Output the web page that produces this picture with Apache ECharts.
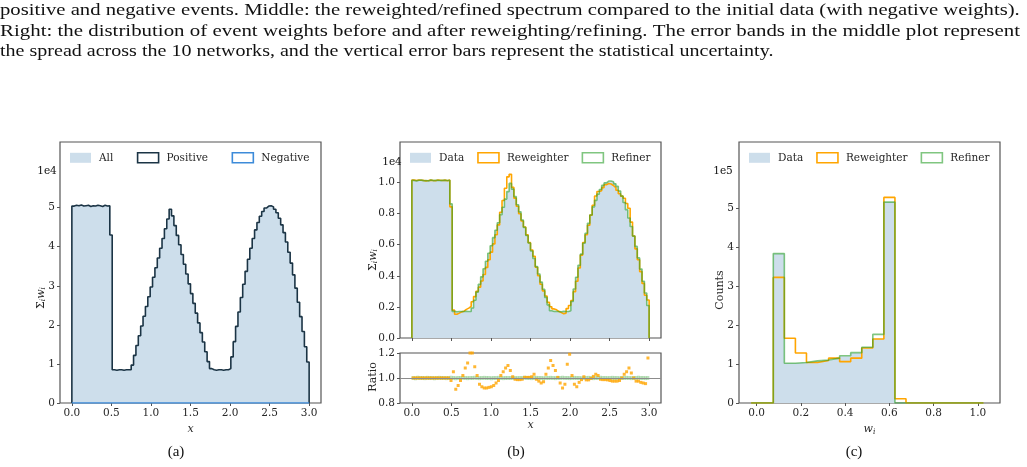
<!DOCTYPE html>
<html>
<head>
<meta charset="utf-8">
<script src="https://cdn.jsdelivr.net/npm/echarts@6/dist/echarts.min.js"></script>
<style>
  html, body { margin: 0; padding: 0; background: #fff; }
  #main { width: 1027px; height: 467px; }
</style>
</head>
<body>
<div id="main"></div>
<script>
// histogram of x, 100 bins of width 0.03 on [0, 3]
var xBinStart = 0, xBinWidth = 0.03;
var xTicks = [0, 0.5, 1, 1.5, 2, 2.5, 3];

// (a) sum of weights, units of 1e4
var allVals = [
  5.04, 5.06, 5.05, 5.07, 5.04, 5.05, 5.06, 5.03, 5.05, 5.04, 5.06, 5.05, 5.03, 5.06, 5.04, 5.05,
  4.30,
  0.85, 0.84, 0.85, 0.85, 0.84, 0.85, 0.85, 0.85,
  0.97, 1.22, 1.47, 1.72, 1.97, 2.22, 2.47, 2.72, 2.97, 3.22, 3.46, 3.71, 3.96, 4.21, 4.46, 4.71, 4.96,
  4.79, 4.54, 4.29, 4.05, 3.80, 3.55, 3.30, 3.05, 2.80, 2.55, 2.30, 2.05, 1.80, 1.56, 1.31, 1.06, 0.88,
  0.85, 0.84, 0.85, 0.85, 0.84, 0.85, 0.85,
  0.88,
  1.18, 1.57, 1.96, 2.33, 2.70, 3.04, 3.37, 3.68, 3.96, 4.21, 4.43, 4.62, 4.78, 4.90, 4.99, 5.04, 5.05,
  5.02, 4.96, 4.87, 4.73, 4.56, 4.36, 4.12, 3.86, 3.58, 3.28, 2.94, 2.58, 2.21, 1.83, 1.44, 1.05
];
// negative weights are tiny on this scale, so positive ~ all
var posVals = allVals;
var negVals = [
  0, 0, 0, 0, 0, 0, 0, 0, 0, 0, 0, 0, 0, 0, 0, 0, 0, 0, 0, 0,
  0, 0, 0, 0, 0, 0, 0, 0, 0, 0, 0, 0, 0, 0, 0, 0, 0, 0, 0, 0,
  0, 0, 0, 0, 0, 0, 0, 0, 0, 0, 0, 0, 0, 0, 0, 0, 0, 0, 0, 0,
  0, 0, 0, 0, 0, 0, 0, 0, 0, 0, 0, 0, 0, 0, 0, 0, 0, 0, 0, 0,
  0, 0, 0, 0, 0, 0, 0, 0, 0, 0, 0, 0, 0, 0, 0, 0, 0, 0, 0, 0
];

// (b) spectrum, units of 1e4
var dataVals = [
  1.015, 1.012, 1.016, 1.014, 1.013, 1.010, 1.012, 1.015, 1.013, 1.011, 1.016, 1.014, 1.012, 1.015, 1.011, 1.016,
  0.860,
  0.170, 0.168, 0.170, 0.171, 0.169, 0.170, 0.171, 0.170,
  0.194, 0.244, 0.294, 0.344, 0.394, 0.444, 0.494, 0.544, 0.594, 0.644, 0.692, 0.742, 0.792, 0.842, 0.892, 0.942, 0.992,
  0.958, 0.908, 0.858, 0.810, 0.760, 0.710, 0.660, 0.610, 0.560, 0.510, 0.460, 0.410, 0.360, 0.312, 0.262, 0.212, 0.176,
  0.170, 0.171, 0.169, 0.170, 0.170, 0.168, 0.170,
  0.176,
  0.236, 0.314, 0.392, 0.466, 0.540, 0.608, 0.674, 0.736, 0.792, 0.842, 0.886, 0.924, 0.956, 0.980, 0.998, 1.008, 1.010,
  1.004, 0.992, 0.974, 0.946, 0.912, 0.872, 0.824, 0.772, 0.716, 0.656, 0.588, 0.516, 0.442, 0.366, 0.288, 0.210
];
var rewVals = [
  1.015, 1.012, 1.016, 1.014, 1.013, 1.010, 1.012, 1.015, 1.013, 1.011, 1.016, 1.014, 1.012, 1.015, 1.011, 1.016,
  0.843,
  0.179, 0.153, 0.160, 0.168, 0.172, 0.184, 0.192, 0.204,
  0.233, 0.266, 0.300, 0.327, 0.366, 0.408, 0.454, 0.503, 0.552, 0.605, 0.664, 0.727, 0.808, 0.884, 0.963, 1.036, 1.052,
  0.968, 0.899, 0.847, 0.799, 0.752, 0.714, 0.663, 0.613, 0.566, 0.525, 0.455, 0.400, 0.346, 0.303, 0.270, 0.229, 0.201,
  0.187, 0.181, 0.170, 0.163, 0.156, 0.160, 0.189,
  0.209,
  0.241, 0.298, 0.365, 0.450, 0.533, 0.614, 0.664, 0.725, 0.790, 0.853, 0.913, 0.942, 0.946, 0.967, 0.985, 0.993, 0.990,
  0.979, 0.967, 0.950, 0.927, 0.912, 0.898, 0.865, 0.834, 0.745, 0.656, 0.573, 0.503, 0.427, 0.351, 0.275, 0.244
];
var refVals = [
  1.013, 1.010, 1.014, 1.015, 1.011, 1.012, 1.010, 1.016, 1.012, 1.013, 1.014, 1.012, 1.013, 1.014, 1.012, 1.014,
  0.862,
  0.171, 0.169, 0.170, 0.170, 0.170, 0.171, 0.170, 0.171,
  0.193, 0.243, 0.295, 0.345, 0.393, 0.445, 0.493, 0.545, 0.593, 0.645, 0.693, 0.741, 0.793, 0.841, 0.893, 0.941, 0.994,
  0.957, 0.909, 0.857, 0.811, 0.759, 0.711, 0.659, 0.611, 0.559, 0.511, 0.459, 0.411, 0.359, 0.313, 0.261, 0.213, 0.175,
  0.171, 0.170, 0.170, 0.169, 0.171, 0.170, 0.170,
  0.175,
  0.235, 0.315, 0.391, 0.467, 0.539, 0.609, 0.673, 0.737, 0.791, 0.843, 0.885, 0.925, 0.955, 0.981, 0.997, 1.009, 1.009,
  1.005, 0.991, 0.975, 0.945, 0.913, 0.871, 0.825, 0.771, 0.717, 0.655, 0.589, 0.515, 0.443, 0.365, 0.289, 0.209
];
// ratio panel, model / data per bin
var rewRatio = [
  1.0, 1.0, 1.0, 1.0, 1.0, 1.0, 1.0, 1.0, 1.0, 1.0, 1.0, 1.0, 1.0, 1.0, 1.0, 1.0,
  0.98,
  1.05, 0.91, 0.94, 0.98, 1.02, 1.08, 1.12, 1.2,
  1.2, 1.09, 1.02, 0.95, 0.93, 0.92, 0.92, 0.925, 0.93, 0.94, 0.96, 0.98, 1.02, 1.05, 1.08, 1.10, 1.06,
  1.01, 0.99, 0.987, 0.987, 0.99, 1.005, 1.005, 1.005, 1.01, 1.03, 0.99, 0.975, 0.96, 0.97, 1.03, 1.08, 1.14,
  1.10, 1.06, 1.005, 0.96, 0.92, 0.95, 1.11,
  1.19,
  1.02, 0.95, 0.93, 0.965, 0.987, 1.01, 0.985, 0.985, 0.997, 1.013, 1.03, 1.02, 0.99, 0.987, 0.987, 0.985, 0.98,
  0.975, 0.975, 0.975, 0.98, 1.0, 1.03, 1.05, 1.08, 1.04, 1.0, 0.975, 0.975, 0.965, 0.96, 0.955, 1.16
];
var refRatio = [
  1.0, 0.998, 1.002, 1.0, 1.0, 0.999, 1.001, 1.0, 1.0, 0.998, 1.0, 1.001, 1.0, 1.0, 0.999, 1.0, 1.002, 1.0, 0.998, 1.0,
  1.0, 1.001, 1.0, 0.999, 1.0, 1.0, 1.002, 1.0, 0.999, 1.0, 1.001, 1.0, 1.0, 0.998, 1.0, 1.0, 1.001, 1.0, 0.999, 1.0,
  1.0, 1.0, 1.001, 1.0, 0.999, 1.0, 1.0, 1.002, 1.0, 1.0, 0.999, 1.0, 1.001, 1.0, 1.0, 0.998, 1.0, 1.0, 1.001, 1.0,
  0.999, 1.0, 1.0, 1.002, 1.0, 1.0, 0.999, 1.0, 1.001, 1.0, 1.0, 0.998, 1.0, 1.0, 1.001, 1.0, 0.999, 1.0, 1.0, 1.002,
  1.0, 1.0, 0.999, 1.0, 1.001, 1.0, 1.0, 0.998, 1.0, 1.0, 1.001, 1.0, 0.999, 1.0, 1.0, 1.002, 1.0, 1.0, 0.999, 1.0
];

// (c) weight distribution, 21 bins of width 0.05 centred on 0.0 ... 1.0, units of 1e5
var wBinStart = -0.025, wBinWidth = 0.05;
var wTicks = [0, 0.2, 0.4, 0.6, 0.8, 1.0];
var dataW = [0, 0, 3.83, 1.02, 1.04, 1.07, 1.09, 1.14, 1.20, 1.28, 1.42, 1.65, 5.15, 0, 0, 0, 0, 0, 0, 0, 0];
var rewW  = [0, 0, 3.22, 1.66, 1.28, 1.04, 1.09, 1.15, 1.06, 1.15, 1.41, 1.64, 5.27, 0.11, 0, 0, 0, 0, 0, 0, 0];
var refW  = [0, 0, 3.83, 1.02, 1.04, 1.08, 1.10, 1.15, 1.21, 1.29, 1.43, 1.76, 5.15, 0, 0, 0, 0, 0, 0, 0, 0];

var sumTicks = [0, 1, 2, 3, 4, 5];
var specTicks = [0, 0.2, 0.4, 0.6, 0.8, 1.0];
var ratioTicks = [0.8, 1.0, 1.2];

var fillCol = '#cddeeb';
var navy = '#1b3445';
var negBlue = '#3d8bd9';
var orange = '#ffa500';
var green = 'rgba(44,160,44,0.6)';
var frame = '#555555';
var ink = '#262626';
var tickFont = 'DejaVu Serif';

// step outline of a histogram: (edge_i, v_i) pairs, closed down to zero at both ends
function stepPts(x0, w, vals) {
  var pts = [[x0, 0]];
  for (var i = 0; i < vals.length; i++) pts.push([x0 + i * w, vals[i]]);
  pts.push([x0 + vals.length * w, vals[vals.length - 1]]);
  pts.push([x0 + vals.length * w, 0]);
  return pts;
}
function centrePts(x0, w, vals) {
  return vals.map(function (v, i) { return [x0 + (i + 0.5) * w, v]; });
}

var myChart = echarts.init(document.getElementById('main'), null, { renderer: 'canvas' });

function xAx(grid, min, max, ticks, showLabels, name) {
  return {
    gridIndex: grid, type: 'value', min: min, max: max,
    splitLine: { show: false },
    axisLine: { show: false, onZero: false },
    axisTick: { show: true, length: 3, customValues: ticks, lineStyle: { color: frame, width: 1 } },
    axisLabel: {
      show: showLabels, customValues: ticks, margin: 5,
      fontFamily: tickFont, fontSize: 10.5, color: ink,
      formatter: function (v) { return v.toFixed(1); }
    },
    name: name || '', nameLocation: 'middle', nameGap: 17,
    nameTextStyle: {
      fontFamily: tickFont, fontStyle: 'italic', fontSize: 11, color: ink,
      rich: {
        w: { fontFamily: tickFont, fontStyle: 'italic', fontSize: 11, color: ink },
        s: { fontFamily: tickFont, fontStyle: 'italic', fontSize: 7.5, color: ink, padding: [5, 0, 0, 0] }
      }
    }
  };
}
function yAx(grid, min, max, ticks, digits) {
  return {
    gridIndex: grid, type: 'value', min: min, max: max,
    splitLine: { show: false },
    axisLine: { show: false, onZero: false },
    axisTick: { show: true, length: 3, customValues: ticks, lineStyle: { color: frame, width: 1 } },
    axisLabel: {
      customValues: ticks, margin: 5,
      fontFamily: tickFont, fontSize: 10.5, color: ink,
      formatter: function (v) { return v.toFixed(digits); }
    }
  };
}
function stepLine(name, xi, yi, pts, color, width, z) {
  return {
    name: name, type: 'line', step: 'end', xAxisIndex: xi, yAxisIndex: yi,
    data: pts, showSymbol: false, symbol: 'none', silent: true, z: z,
    lineStyle: { color: color, width: width }
  };
}
function stepFill(name, xi, yi, pts) {
  return {
    name: name, type: 'line', step: 'end', xAxisIndex: xi, yAxisIndex: yi,
    data: pts, showSymbol: false, symbol: 'none', silent: true, z: 1,
    itemStyle: { color: fillCol },
    lineStyle: { width: 0, color: fillCol },
    areaStyle: { color: fillCol, opacity: 1, origin: 'start' }
  };
}

var sigmaRich = {
  a: { fontFamily: tickFont, fontSize: 11, color: ink },
  b: { fontFamily: tickFont, fontStyle: 'italic', fontSize: 11, color: ink },
  s: { fontFamily: tickFont, fontStyle: 'italic', fontSize: 7.5, color: ink, padding: [5, 0, 0, 0] }
};
function yLabel(x, y, text, rich) {
  return {
    type: 'text', x: x, y: y, rotation: Math.PI / 2, silent: true,
    style: { text: text, rich: rich, fontFamily: tickFont, fontSize: 11, fill: ink, textAlign: 'center', textVerticalAlign: 'middle' }
  };
}
function plainText(x, y, text, font, size, align, sx) {
  return {
    type: 'text', x: x, y: y, scaleX: sx || 1, silent: true,
    style: { text: text, fontFamily: font, fontSize: size, fill: '#111', textAlign: align, textVerticalAlign: 'middle' }
  };
}

var legendBase = {
  orient: 'horizontal', itemWidth: 21, itemHeight: 10, selectedMode: false, padding: 0,
  textStyle: { fontFamily: tickFont, fontSize: 10.5, color: ink, padding: [0, 0, 0, 3] }
};
function legendAt(left, gap, items) {
  return Object.assign({}, legendBase, { left: left, top: 152, itemGap: gap, data: items });
}
var boxItem = function (name, col) {
  return { name: name, icon: 'rect', itemStyle: { color: '#fff', borderColor: col, borderWidth: 1.6 } };
};
var fillItem = function (name) {
  return { name: name, icon: 'rect', itemStyle: { color: fillCol, borderWidth: 0 } };
};

var caption = [
  'positive and negative events. Middle: the reweighted/refined spectrum compared to the initial data (with negative weights).',
  'Right: the distribution of event weights before and after reweighting/refining. The error bands in the middle plot represent',
  'the spread across the 10 networks, and the vertical error bars represent the statistical uncertainty.'
];

var option = {
  animation: false,
  backgroundColor: '#fff',
  grid: [
    { left: 60, top: 142, width: 261, height: 261, show: true, borderColor: frame, borderWidth: 1.2, backgroundColor: 'transparent' },
    { left: 400, top: 142, width: 261, height: 196, show: true, borderColor: frame, borderWidth: 1.2, backgroundColor: 'transparent' },
    { left: 400, top: 353, width: 261, height: 50, show: true, borderColor: frame, borderWidth: 1.2, backgroundColor: 'transparent' },
    { left: 739, top: 142, width: 261, height: 261, show: true, borderColor: frame, borderWidth: 1.2, backgroundColor: 'transparent' }
  ],
  xAxis: [
    xAx(0, -0.15, 3.15, xTicks, true, 'x'),
    xAx(1, -0.15, 3.15, xTicks, false),
    xAx(2, -0.15, 3.15, xTicks, true, 'x'),
    xAx(3, -0.08, 1.10, wTicks, true, '{w|w}{s|i}')
  ],
  yAxis: [
    yAx(0, 0, 6.68, sumTicks, 0),
    yAx(1, 0, 1.26, specTicks, 1),
    yAx(2, 0.8, 1.2, ratioTicks, 1),
    yAx(3, 0, 6.69, sumTicks, 0)
  ],
  legend: [
    legendAt(70, 23.5, [fillItem('All'), boxItem('Positive', navy), boxItem('Negative', negBlue)]),
    legendAt(410, 13, [fillItem('Data'), boxItem('Reweighter', orange), boxItem('Refiner', green)]),
    legendAt(749, 13, [fillItem('Data'), boxItem('Reweighter', orange), boxItem('Refiner', green)])
  ],
  graphic: [
    plainText(0, 11, caption[0], 'Liberation Serif', 17, 'left', 1.217),
    plainText(0, 32, caption[1], 'Liberation Serif', 17, 'left', 1.229),
    plainText(0, 52, caption[2], 'Liberation Serif', 17, 'left', 1.179),
    plainText(176, 452, '(a)', 'Liberation Serif', 15, 'center'),
    plainText(516, 452, '(b)', 'Liberation Serif', 15, 'center'),
    plainText(854, 452, '(c)', 'Liberation Serif', 15, 'center'),
    plainText(47, 171, '1e4', tickFont, 10.5, 'center'),
    plainText(392, 162, '1e4', tickFont, 10.5, 'center'),
    plainText(723, 171, '1e5', tickFont, 10.5, 'center'),
    yLabel(41, 298, '{a|Σ}{s|i}{b|w}{s|i}', sigmaRich),
    yLabel(373, 260, '{a|Σ}{s|i}{b|w}{s|i}', sigmaRich),
    yLabel(373, 377, 'Ratio', null),
    yLabel(720, 290, 'Counts', null)
  ],
  series: [
    // (a)
    stepFill('All', 0, 0, stepPts(xBinStart, xBinWidth, allVals)),
    stepLine('Positive', 0, 0, stepPts(xBinStart, xBinWidth, posVals), navy, 1.6, 3),
    stepLine('Negative', 0, 0, stepPts(xBinStart, xBinWidth, negVals), negBlue, 1.6, 4),
    // (b) main
    stepFill('Data', 1, 1, stepPts(xBinStart, xBinWidth, dataVals)),
    stepLine('Reweighter', 1, 1, stepPts(xBinStart, xBinWidth, rewVals), orange, 1.6, 3),
    stepLine('Refiner', 1, 1, stepPts(xBinStart, xBinWidth, refVals), green, 1.6, 4),
    // (b) ratio
    {
      name: 'Refiner', type: 'scatter', xAxisIndex: 2, yAxisIndex: 2, silent: true, z: 3,
      data: centrePts(xBinStart, xBinWidth, refRatio), symbol: 'rect', symbolSize: [2.8, 4],
      itemStyle: { color: 'rgba(44,160,44,0.4)' },
      markLine: {
        silent: true, symbol: 'none', label: { show: false },
        lineStyle: { color: '#8c8c8c', width: 1.2, type: 'solid' },
        data: [{ yAxis: 1 }]
      }
    },
    {
      name: 'Reweighter', type: 'scatter', xAxisIndex: 2, yAxisIndex: 2, silent: true, z: 4,
      data: centrePts(xBinStart, xBinWidth, rewRatio), symbol: 'rect', symbolSize: 3,
      itemStyle: { color: orange }
    },
    // (c)
    stepFill('Data', 3, 3, stepPts(wBinStart, wBinWidth, dataW)),
    stepLine('Reweighter', 3, 3, stepPts(wBinStart, wBinWidth, rewW), orange, 1.6, 3),
    stepLine('Refiner', 3, 3, stepPts(wBinStart, wBinWidth, refW), green, 1.6, 4)
  ]
};

myChart.setOption(option);
</script>
</body>
</html>
